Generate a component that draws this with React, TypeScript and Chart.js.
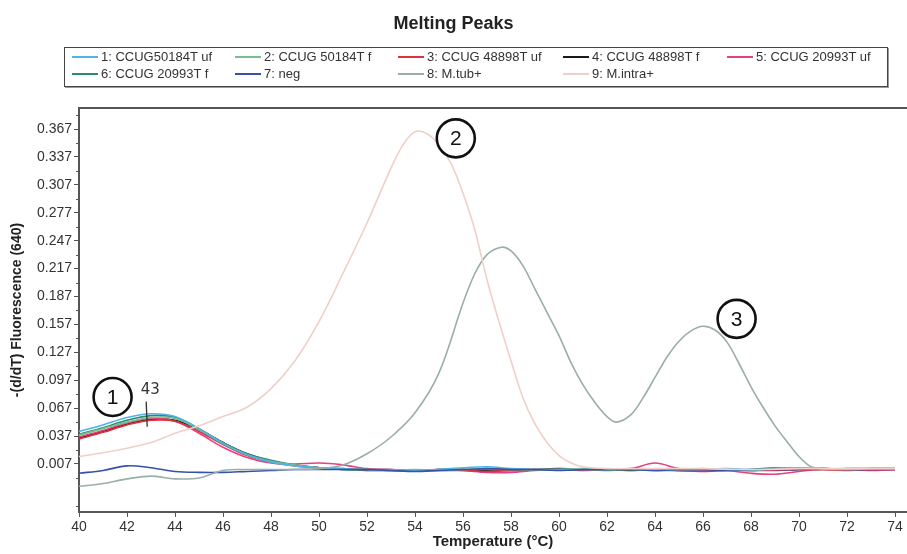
import { useEffect, useRef } from "react";
import { Chart, registerables } from "chart.js";

Chart.register(...registerables);

const TITLE = "Melting Peaks";
const X_TITLE = "Temperature (°C)";
const Y_TITLE = "-(d/dT) Fluorescence (640)";

const X_TICKS = [40, 42, 44, 46, 48, 50, 52, 54, 56, 58, 60, 62, 64, 66, 68, 70, 72, 74];
const Y_TICKS = [0.007, 0.037, 0.067, 0.097, 0.127, 0.157, 0.187, 0.217, 0.247, 0.277, 0.307, 0.337, 0.367];

const SERIES_NAMES = [
  "1: CCUG50184T uf",
  "2: CCUG 50184T f",
  "3: CCUG 48898T uf",
  "4: CCUG 48898T f",
  "5: CCUG 20993T uf",
  "6: CCUG 20993T f",
  "7: neg",
  "8: M.tub+",
  "9: M.intra+",
];
const SERIES_COLORS = [
  "#4fb3e8",
  "#72c08f",
  "#e0303a",
  "#1a1a1a",
  "#e8407f",
  "#2a8a6e",
  "#3552a8",
  "#9aaea8",
  "#f0cfc8",
];

// common temperatures for samples 1-7
const TEMPS = [40, 41, 42, 43, 44, 45, 46, 47, 48, 49, 50, 51, 52, 53, 54, 55, 56, 57, 58, 59, 60, 61, 62, 63, 64, 65, 66, 67, 68, 69, 70, 71, 72, 73, 74];

const S1 = [0.042, 0.049, 0.057, 0.061, 0.058, 0.045, 0.029, 0.017, 0.009, 0.005, 0.003, 0.002, 0.001, 0.001, 0.0, 0.001, 0.003, 0.004, 0.002, 0.001, 0.001, 0.001, 0.001, 0.002, 0.001, 0.001, 0.001, 0.002, 0.001, 0.002, 0.003, 0.002, 0.002, 0.002, 0.002];
const S2 = [0.038, 0.045, 0.052, 0.057, 0.056, 0.044, 0.029, 0.017, 0.010, 0.006, 0.003, 0.001, 0.001, 0.0, 0.001, 0.0, 0.001, 0.002, 0.001, 0.001, 0.001, 0.002, 0.001, 0.001, 0.0, 0.001, 0.002, 0.001, 0.0, 0.002, 0.003, 0.002, 0.001, 0.002, 0.002];
const S3 = [0.034, 0.041, 0.049, 0.054, 0.053, 0.042, 0.028, 0.016, 0.009, 0.005, 0.003, 0.002, 0.001, 0.001, 0.0, 0.0, 0.0, -0.001, 0.0, 0.001, 0.001, 0.0, 0.001, 0.001, 0.0, 0.0, -0.001, 0.0, 0.0, 0.0, 0.001, 0.001, 0.0, 0.001, 0.001];
const S4 = [0.035, 0.042, 0.050, 0.055, 0.054, 0.044, 0.030, 0.018, 0.010, 0.006, 0.003, 0.001, 0.0, 0.0, 0.0, 0.001, 0.001, 0.0, 0.001, 0.001, 0.002, 0.001, 0.001, 0.0, 0.001, 0.0, 0.0, 0.001, 0.0, 0.001, 0.001, 0.002, 0.001, 0.001, 0.001];
const S5 = [0.036, 0.043, 0.051, 0.056, 0.053, 0.040, 0.025, 0.014, 0.008, 0.007, 0.008, 0.006, 0.002, 0.001, 0.0, 0.001, 0.0, -0.002, -0.002, 0.0, 0.001, 0.001, 0.001, 0.002, 0.008, 0.002, 0.0, 0.0, -0.003, -0.004, -0.001, 0.001, 0.001, 0.0, 0.001];
const S6 = [0.039, 0.046, 0.054, 0.059, 0.057, 0.045, 0.030, 0.018, 0.011, 0.006, 0.003, 0.001, 0.001, 0.0, 0.0, 0.001, 0.001, 0.001, 0.0, 0.001, 0.001, 0.001, 0.0, 0.001, 0.001, 0.0, 0.001, 0.001, 0.001, 0.003, 0.002, 0.001, 0.002, 0.002, 0.002];
const S7 = [-0.003, 0.0, 0.005, 0.003, -0.001, -0.002, -0.002, -0.001, 0.0, 0.001, 0.001, 0.001, 0.001, 0.0, -0.001, 0.0, 0.001, 0.002, 0.001, 0.001, 0.0, 0.001, 0.001, 0.001, 0.0, 0.001, 0.001, 0.0, 0.001, 0.001, 0.001, 0.002, 0.001, 0.001, 0.001];

const TUB_TEMPS = [40, 41, 42, 43, 44, 45, 46, 47, 48, 49, 50, 51, 52, 53, 54, 55, 56, 56.5, 57, 57.6, 58, 58.5, 59, 59.5, 60, 60.5, 61, 61.5, 62, 62.4, 63, 63.5, 64, 64.5, 65, 65.5, 66, 66.5, 67, 67.5, 68, 68.5, 69, 69.5, 70, 70.5, 71, 72, 73, 74];
const TUB_VALUES = [-0.017, -0.014, -0.009, -0.006, -0.009, -0.008, 0.0, 0.001, 0.001, 0.001, 0.002, 0.006, 0.018, 0.036, 0.062, 0.105, 0.180, 0.212, 0.232, 0.240, 0.236, 0.220, 0.195, 0.170, 0.145, 0.116, 0.092, 0.073, 0.058, 0.052, 0.060, 0.078, 0.100, 0.122, 0.139, 0.150, 0.155, 0.151, 0.138, 0.115, 0.090, 0.068, 0.048, 0.031, 0.015, 0.004, 0.002, 0.001, 0.002, 0.002];

const INTRA_TEMPS = [40, 41, 42, 43, 44, 45, 46, 47, 48, 49, 50, 51, 52, 53, 53.5, 54, 54.5, 55, 55.5, 56, 56.5, 57, 57.5, 58, 58.5, 59, 59.5, 60, 60.5, 61, 62, 64, 66, 68, 70, 72, 74];
const INTRA_VALUES = [0.015, 0.019, 0.024, 0.030, 0.040, 0.048, 0.058, 0.068, 0.088, 0.118, 0.160, 0.212, 0.266, 0.325, 0.350, 0.364, 0.362, 0.350, 0.330, 0.298, 0.258, 0.205, 0.160, 0.118, 0.078, 0.050, 0.030, 0.016, 0.008, 0.004, 0.002, 0.002, 0.002, 0.001, 0.002, 0.002, 0.002];

const CIRCLE_LABELS = ["1", "2", "3"];
const CIRCLE_X = [41.4, 55.7, 67.4];
const CIRCLE_Y = [0.079, 0.357, 0.163];
const NOTE_TEXT = "43";
const NOTE_X = 42.8;
const NOTE_Y = 0.086;

const FONT = '"Liberation Sans", Arial, sans-serif';

const pts = (xs: number[], ys: number[]) => xs.map((x, i) => ({ x, y: ys[i] }));

const LEGEND_COLS = [72, 235, 398, 563, 727];
const LEGEND_ROWS = [57, 74];
const LEGEND_SLOTS = [
  [0, 0], [1, 0], [2, 0], [3, 0], [4, 0],
  [0, 1], [1, 1], [2, 1], [3, 1],
];

const framePlugin = {
  id: "frame",
  afterDraw(chart: any) {
    const { ctx, chartArea, scales } = chart;
    const y = scales.y;
    ctx.save();
    ctx.strokeStyle = "#555";
    ctx.lineWidth = 2;
    ctx.beginPath();
    ctx.moveTo(chartArea.left, chartArea.top);
    ctx.lineTo(chartArea.right, chartArea.top);
    ctx.stroke();
    ctx.lineWidth = 1;
    for (let v = Y_TICKS[0] - 0.045; v < Y_TICKS[Y_TICKS.length - 1] + 0.02; v += 0.03) {
      const py = y.getPixelForValue(v);
      if (py < chartArea.top || py > chartArea.bottom) continue;
      ctx.beginPath();
      ctx.moveTo(chartArea.left, Math.round(py) + 0.5);
      ctx.lineTo(chartArea.left - 3, Math.round(py) + 0.5);
      ctx.stroke();
    }
    ctx.restore();
  },
};

const annotationPlugin = {
  id: "annot",
  afterDatasetsDraw(chart: any) {
    const { ctx, scales } = chart;
    const x = scales.x;
    const y = scales.y;
    ctx.save();
    CIRCLE_LABELS.forEach((label, i) => {
      const px = x.getPixelForValue(CIRCLE_X[i]);
      const py = y.getPixelForValue(CIRCLE_Y[i]);
      ctx.beginPath();
      ctx.arc(px, py, 19, 0, Math.PI * 2);
      ctx.fillStyle = "#fff";
      ctx.fill();
      ctx.lineWidth = 2.6;
      ctx.strokeStyle = "#111";
      ctx.stroke();
      ctx.fillStyle = "#111";
      ctx.font = `21px ${FONT}`;
      ctx.textAlign = "center";
      ctx.textBaseline = "middle";
      ctx.fillText(label, px, py + 1);
    });
    const nx = x.getPixelForValue(NOTE_X);
    const ny = y.getPixelForValue(NOTE_Y);
    ctx.fillStyle = "#333";
    ctx.font = `15px "DejaVu Sans", sans-serif`;
    ctx.textAlign = "center";
    ctx.textBaseline = "middle";
    ctx.fillText(NOTE_TEXT, nx + 4, ny);
    ctx.strokeStyle = "#333";
    ctx.lineWidth = 1.3;
    ctx.beginPath();
    ctx.moveTo(nx, y.getPixelForValue(0.074));
    ctx.lineTo(nx + 1, y.getPixelForValue(0.047));
    ctx.stroke();
    ctx.restore();
  },
};

export default function App() {
  const ref = useRef<HTMLCanvasElement>(null);

  useEffect(() => {
    if (!ref.current) return;
    const sampleSeries = [S1, S2, S3, S4, S5, S6, S7];
    const datasets: any[] = [];
    datasets.push({
      label: SERIES_NAMES[8],
      data: pts(INTRA_TEMPS, INTRA_VALUES),
      borderColor: SERIES_COLORS[8],
      borderWidth: 1.6,
    });
    datasets.push({
      label: SERIES_NAMES[7],
      data: pts(TUB_TEMPS, TUB_VALUES),
      borderColor: SERIES_COLORS[7],
      borderWidth: 1.6,
    });
    const order = [6, 0, 1, 2, 5, 4, 3];
    order.forEach((i) => {
      datasets.push({
        label: SERIES_NAMES[i],
        data: pts(TEMPS, sampleSeries[i]),
        borderColor: SERIES_COLORS[i],
        borderWidth: 1.6,
      });
    });

    const chart = new Chart(ref.current, {
      type: "line",
      data: { datasets },
      plugins: [framePlugin, annotationPlugin],
      options: {
        responsive: false,
        animation: false,
        devicePixelRatio: 1,
        layout: { padding: { left: 0, right: 0, top: 0, bottom: 0 } },
        elements: {
          point: { radius: 0 },
          line: { tension: 0.35 },
        },
        plugins: {
          legend: { display: false },
          tooltip: { enabled: false },
          title: {
            display: true,
            text: TITLE,
            color: "#222",
            font: { family: FONT, size: 18, weight: "bold" },
            padding: { top: 13, bottom: 73.4 },
          },
        },
        scales: {
          x: {
            type: "linear",
            min: 40,
            max: 74.5,
            afterBuildTicks: (scale: any) => {
              scale.ticks = X_TICKS.map((v) => ({ value: v }));
            },
            afterFit: (scale: any) => {
              scale.height = 42;
            },
            ticks: {
              color: "#333",
              font: { family: FONT, size: 14 },
              padding: 2,
              maxRotation: 0,
              autoSkip: false,
            },
            grid: { drawOnChartArea: false, drawTicks: true, tickLength: 5, color: "#555" },
            border: { display: true, color: "#555", width: 2 },
            title: {
              display: true,
              text: X_TITLE,
              color: "#222",
              font: { family: FONT, size: 15, weight: "bold" },
              padding: { top: 0, bottom: 3 },
            },
          },
          y: {
            type: "linear",
            min: -0.0446,
            max: 0.3896,
            afterBuildTicks: (scale: any) => {
              scale.ticks = Y_TICKS.map((v) => ({ value: v }));
            },
            afterFit: (scale: any) => {
              scale.width = 79;
            },
            ticks: {
              color: "#333",
              font: { family: FONT, size: 14 },
              padding: 2,
              autoSkip: false,
              callback: (v: any) => Number(v).toFixed(3),
            },
            grid: { drawOnChartArea: false, drawTicks: true, tickLength: 5, color: "#555" },
            border: { display: true, color: "#555", width: 2 },
            title: {
              display: true,
              text: Y_TITLE,
              color: "#222",
              font: { family: FONT, size: 14, weight: "bold" },
              padding: { top: 9, bottom: 0 },
            },
          },
        },
      } as any,
    });
    return () => chart.destroy();
  }, []);

  return (
    <div style={{ position: "fixed", left: 0, top: 0, width: 907, height: 554, background: "#fff" }}>
      <canvas ref={ref} width={907} height={554} style={{ position: "absolute", left: 0, top: 0 }} />
      <div
        style={{
          position: "absolute",
          left: 64,
          top: 47,
          width: 822,
          height: 38,
          border: "1px solid #444",
          boxShadow: "1px 1px 0 #999",
        }}
      />
      {SERIES_NAMES.map((name, i) => {
        const [c, r] = LEGEND_SLOTS[i];
        const left = LEGEND_COLS[c];
        const cy = LEGEND_ROWS[r];
        return (
          <div key={name}>
            <div
              style={{
                position: "absolute",
                left,
                top: cy - 1,
                width: 26,
                height: 2,
                background: SERIES_COLORS[i],
              }}
            />
            <div
              style={{
                position: "absolute",
                left: left + 29,
                top: cy - 8,
                height: 16,
                lineHeight: "16px",
                fontFamily: FONT,
                fontSize: 13,
                color: "#333",
                whiteSpace: "nowrap",
              }}
            >
              {name}
            </div>
          </div>
        );
      })}
    </div>
  );
}
